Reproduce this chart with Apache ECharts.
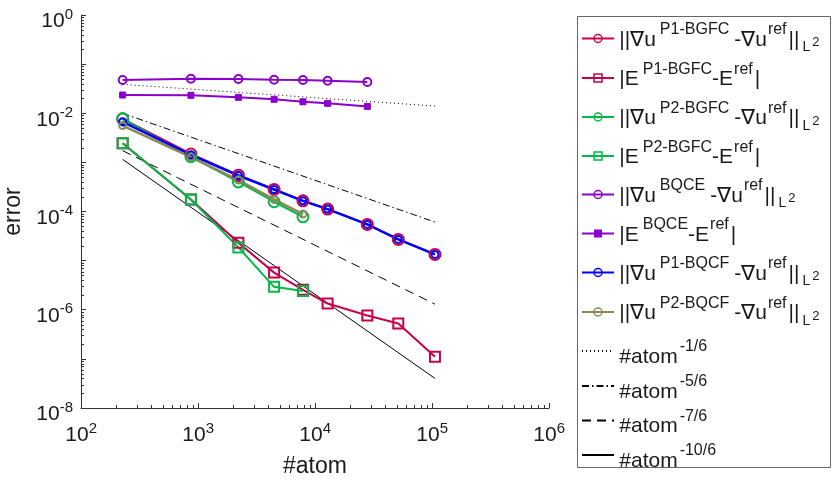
<!DOCTYPE html>
<html><head><meta charset="utf-8">
<script src="https://cdn.jsdelivr.net/npm/echarts@6/dist/echarts.min.js"></script>
<style>html,body{margin:0;padding:0;background:#fff}#c{width:832px;height:481px}</style>
</head><body><div id="c"></div>
<script>
// ---- data ----
const atoms = [227, 870, 2214, 4470, 7890, 12820, 28000, 51500, 106000];
const gradP1BGFC = [0.0077, 0.00148, 5.5e-4, 2.82e-4, 1.65e-4, 1.12e-4, 5.46e-5, 2.7e-5, 1.34e-5];
const engP1BGFC  = [2.44e-3, 1.76e-4, 2.3e-5, 5.7e-6, 2.55e-6, 1.34e-6, 7.65e-7, 5.26e-7, 1.1e-7];
const gradP2BGFC = [0.0077, 0.0013, 4.0e-4, 1.58e-4, 7.8e-5];
const engP2BGFC  = [2.44e-3, 1.75e-4, 1.86e-5, 2.93e-6, 2.4e-6];
const gradBQCE   = [0.0475, 0.0504, 0.0500, 0.0481, 0.0475, 0.0459, 0.0432];
const engBQCE    = [0.0235, 0.0232, 0.0211, 0.0192, 0.0171, 0.0159, 0.0138];
const gradP1BQCF = [0.0067, 0.00142, 5.4e-4, 2.8e-4, 1.65e-4, 1.12e-4, 5.46e-5, 2.7e-5, 1.34e-5];
const gradP2BQCF = [0.0056, 0.00128, 4.36e-4, 1.76e-4, 8.85e-5];
const refAtoms = [227, 106000];
const ref1_6  = [0.0388, 0.014];
const ref5_6  = [0.00995, 6.1e-5];
const ref7_6  = [1.73e-3, 1.3e-6];
const ref10_6 = [1.15e-3, 4.0e-8];
const minorMult = [2, 3, 4, 5, 6, 7, 8, 9];
const xDecades = [1e2, 1e3, 1e4, 1e5];
const yDecades = [1e-8, 1e-7, 1e-6, 1e-5, 1e-4, 1e-3, 1e-2, 1e-1];

const F = '"Liberation Sans", Arial, Helvetica, sans-serif';
const RED = '#c8004a', GREEN = '#00b946', PURPLE = '#8a00cc', BLUE = '#0000ff', OLIVE = '#8b8a57';
const AX = '#333333';
const TXT = '#1a1a1a';

const names = ['gP1BGFC','eP1BGFC','gP2BGFC','eP2BGFC','gBQCE','eBQCE','gP1BQCF','gP2BQCF','r1','r5','r7','r10'];
const gradLabel = sup => '{h| }{m|||∇u}{s|' + sup + '}{g|-∇u}{r|ref}{m|||}{L|L}{t|2}';
const engLabel = sup => '{h| }{m||E}{s|' + sup + '}{m|-E}{r|ref}{m||}';
const atomLabel = p => '{h2| }{a|#atom}{b|' + p + '}';
const legendText = {
  gP1BGFC: gradLabel('P1-BGFC'), eP1BGFC: engLabel('P1-BGFC'),
  gP2BGFC: gradLabel('P2-BGFC'), eP2BGFC: engLabel('P2-BGFC'),
  gBQCE: gradLabel('BQCE'), eBQCE: engLabel('BQCE'),
  gP1BQCF: gradLabel('P1-BQCF'), gP2BQCF: gradLabel('P2-BQCF'),
  r1: atomLabel('-1/6'), r5: atomLabel('-5/6'), r7: atomLabel('-7/6'), r10: atomLabel('-10/6')
};
// legend row centres (layout only)
const rowCenter = [39, 78.5, 117.5, 156.5, 195, 234, 273, 312.5, 353, 388, 422.5, 457];

function pts(xs, ys) { return ys.map((y, i) => [xs[i], y]); }
function dataSeries(name, ys, color, symbol, size, lw, hollow) {
  return {
    name, type: 'line', data: pts(atoms, ys), symbol, symbolSize: size,
    showSymbol: true, z: 2,
    lineStyle: { color, width: lw },
    itemStyle: hollow ? { color: 'rgba(0,0,0,0)', borderColor: color, borderWidth: 2 } : { color, borderColor: color, borderWidth: 1 },
    emphasis: { disabled: true }, animation: false
  };
}
function refSeries(name, ys, type) {
  return {
    name, type: 'line', data: pts(refAtoms, ys), symbol: 'none',
    lineStyle: { color: '#000', width: 1, type }, emphasis: { disabled: true }, animation: false, z: 1
  };
}
// minor tick marks: [x, y, length, direction(0 = up from x-axis, 1 = right from y-axis)]
const ticks = [];
xDecades.forEach(d => minorMult.forEach(m => ticks.push([d * m, 1e-8, 3, 0])));
yDecades.forEach(d => minorMult.forEach(m => ticks.push([100, d * m, 3, 1])));

const series = [
  dataSeries('gP1BGFC', gradP1BGFC, RED, 'circle', 11, 2, true),
  dataSeries('eP1BGFC', engP1BGFC, RED, 'rect', 10, 2, true),
  dataSeries('gP2BGFC', gradP2BGFC, GREEN, 'circle', 11, 2, true),
  dataSeries('eP2BGFC', engP2BGFC, GREEN, 'rect', 10, 2, true),
  dataSeries('gBQCE', gradBQCE, PURPLE, 'circle', 8, 2, true),
  dataSeries('eBQCE', engBQCE, PURPLE, 'rect', 6, 2, false),
  dataSeries('gP1BQCF', gradP1BQCF, BLUE, 'circle', 7, 2.5, true),
  dataSeries('gP2BQCF', gradP2BQCF, OLIVE, 'circle', 7, 2.5, true),
  refSeries('r1', ref1_6, [1, 3]),
  refSeries('r5', ref5_6, [7, 3, 1.5, 3]),
  refSeries('r7', ref7_6, [9, 6]),
  refSeries('r10', ref10_6, 'solid'),
  { type: 'custom', name: 'ticks', silent: true, z: 5, animation: false, clip: false, data: ticks,
    encode: { x: 0, y: 1 },
    renderItem(p, api) {
      const c = api.coord([api.value(0), api.value(1)]);
      const len = api.value(2);
      if (api.value(3) === 0) {
        const x = Math.round(c[0]) + 0.5, y = Math.round(c[1]);
        return { type: 'line', shape: { x1: x, y1: y, x2: x, y2: y - len }, style: { stroke: AX, lineWidth: 1 } };
      }
      const y = Math.round(c[1]) + 0.5, x = Math.round(c[0]);
      return { type: 'line', shape: { x1: x, y1: y, x2: x + len, y2: y }, style: { stroke: AX, lineWidth: 1 } };
    } }
];

const HOL = c => ({ color: 'rgba(0,0,0,0)', borderColor: c, borderWidth: 1.5 });
const NONE = { color: 'rgba(0,0,0,0)', borderColor: 'rgba(0,0,0,0)', borderWidth: 0, opacity: 0 };
const legendItemStyle = {
  gP1BGFC: HOL(RED), eP1BGFC: HOL(RED), gP2BGFC: HOL(GREEN), eP2BGFC: HOL(GREEN),
  gBQCE: HOL(PURPLE), eBQCE: { color: PURPLE, borderColor: PURPLE, borderWidth: 0 },
  gP1BQCF: HOL(BLUE), gP2BQCF: HOL(OLIVE), r1: NONE, r5: NONE, r7: NONE, r10: NONE
};

function tok(fs, h, va, pad) { return { fontSize: fs, height: h, lineHeight: h, verticalAlign: va, fontFamily: F, color: TXT, padding: pad || 0 }; }
const legendRich = {
  h: tok(1, 30, 'middle'), m: tok(21, 27, 'bottom'), g: tok(21, 27, 'bottom', [0, 0, 0, 5]),
  s: tok(16, 13, 'top', [0, 0, 0, 4]), r: tok(16, 13, 'top', [0, 2, 0, 1]),
  L: tok(14, 12, 'bottom', [0, 0, 0, 3]), t: tok(13, 22, 'bottom', [0, 0, 0, 2]),
  h2: tok(1, 27, 'middle'), a: tok(21, 15, 'bottom'), b: tok(16, 19, 'top', [0, 0, 0, 2])
};
const legends = names.map((n, i) => ({
  orient: 'vertical', left: 581, top: rowCenter[i] - (i < 8 ? 17 : 15.5), padding: 0,
  itemWidth: 32, itemHeight: 10, selectedMode: false,
  data: [{ name: n, itemStyle: legendItemStyle[n] }],
  formatter: nm => legendText[nm],
  textStyle: { fontFamily: F, color: TXT, rich: legendRich }
}));

const option = {
  backgroundColor: '#fff',
  animation: false,
  grid: { left: 81, right: 283, top: 15, bottom: 73, containLabel: false, outerBoundsMode: 'none' },
  xAxis: {
    type: 'log', logBase: 10, min: 100, max: 1e6,
    name: '#atom', nameLocation: 'middle', nameGap: 47,
    nameTextStyle: { fontSize: 23, fontFamily: F, color: TXT },
    axisLine: { show: true, lineStyle: { color: AX, width: 1 } },
    axisTick: { show: true, inside: true, length: 5, lineStyle: { color: AX } },
    splitLine: { show: false },
    axisLabel: {
      margin: 10, hideOverlap: false, showMinLabel: true, showMaxLabel: true,
      formatter: v => '{xh| }{xb|10}{xe|' + Math.round(Math.log10(v)) + '}',
      rich: { xh: tok(1, 28, 'middle'), xb: tok(21, 21, 'bottom'), xe: tok(15, 21, 'top') }
    }
  },
  yAxis: {
    type: 'log', logBase: 10, min: 1e-8, max: 1,
    name: 'error', nameLocation: 'middle', nameGap: 52, nameRotate: 90,
    nameTextStyle: { fontSize: 23, fontFamily: F, color: TXT },
    axisLine: { show: true, lineStyle: { color: AX, width: 1 } },
    axisTick: { show: true, inside: true, length: 5, lineStyle: { color: AX } },
    splitLine: { show: false },
    axisLabel: {
      margin: 8, hideOverlap: false, showMinLabel: true, showMaxLabel: true,
      formatter: v => { const e = Math.round(Math.log10(v)); return (e % 2 === 0) ? '{yh| }{yb|10}{ye|' + e + '}' : ''; },
      rich: { yh: tok(1, 34, 'middle'), yb: tok(21, 21, 'bottom'), ye: tok(15, 33, 'top') }
    }
  },
  legend: legends,
  graphic: [{
    type: 'rect', silent: true, z: 100,
    shape: { x: 577.5, y: 16.5, width: 253, height: 451 },
    style: { fill: 'none', stroke: '#666', lineWidth: 1 }
  }],
  series
};
const chart = echarts.init(document.getElementById('c'), null, { renderer: 'canvas' });
chart.setOption(option);
</script></body></html>
